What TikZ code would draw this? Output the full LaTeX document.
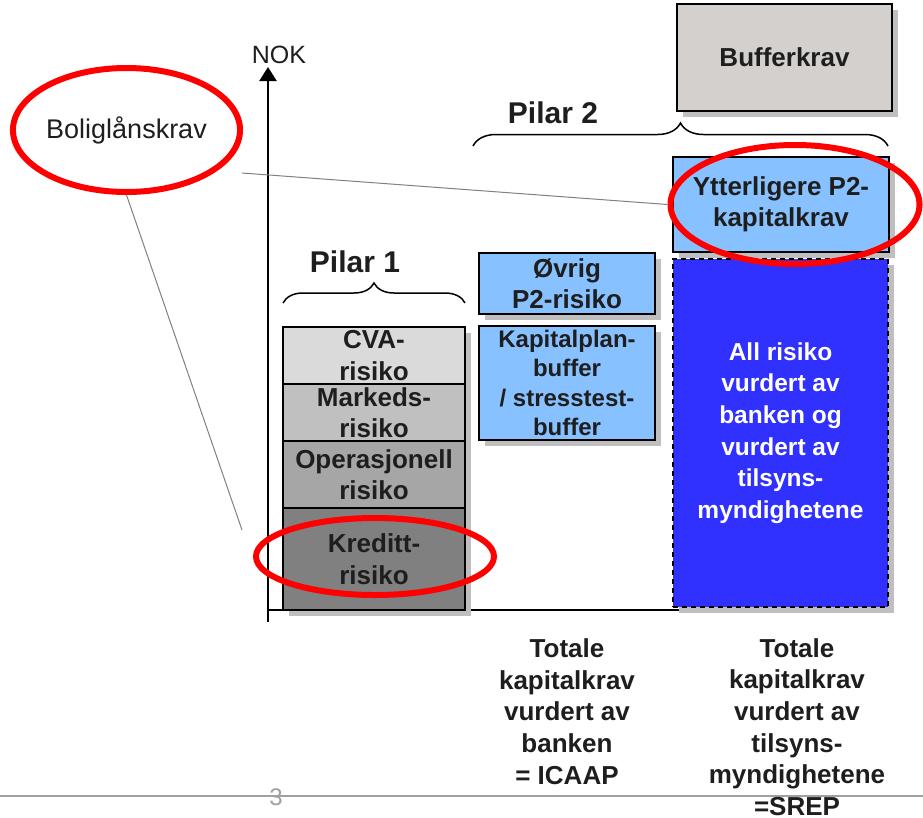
\documentclass[tikz,border=0pt]{standalone}
\usepackage{fontspec}
\setmainfont{Liberation Sans}
\usetikzlibrary{shapes.geometric,shadows,arrows.meta,decorations.pathreplacing}
\definecolor{cvaC}{HTML}{DADADA}
\definecolor{markC}{HTML}{C0C0C0}
\definecolor{operC}{HTML}{A6A6A6}
\definecolor{kredC}{HTML}{808080}
\definecolor{lblue}{HTML}{88C1FF}
\definecolor{bufC}{HTML}{D3D0CE}
\definecolor{dblue}{HTML}{3030FF}
\definecolor{shadowC}{HTML}{BFBFBF}
\definecolor{txtC}{HTML}{1E1E1E}
\definecolor{connC}{HTML}{808080}
\definecolor{footC}{HTML}{A0A0A0}
\tikzset{
  box/.style={draw=black, line width=1.2pt, inner sep=0pt, align=center, text=txtC,
    font=\fontsize{26}{31.5}\selectfont\bfseries,
    drop shadow={shadow xshift=6pt, shadow yshift=-6pt, fill=shadowC, opacity=1}},
  redring/.style={ellipse, draw=red, line width=6pt, inner sep=0pt},
  conn/.style={draw=connC, line width=1pt},
  bracelbl/.style={font=\fontsize{30}{36}\selectfont\bfseries, text=txtC, inner sep=0pt},
  bracestyle/.style={decorate, decoration={brace, amplitude=#1}, line width=1.5pt},
  bottomlbl/.style={font=\fontsize{26}{31.7}\selectfont\bfseries, text=txtC, align=center, inner sep=0pt}
}
\begin{document}
\begin{tikzpicture}[x=1pt,y=-1pt]
\path[use as bounding box] (0,0) rectangle (923,817);

% footer line and page number
\coordinate (fl) at (0,796);
\coordinate (fr) at (923,796);
\draw[footC, line width=1.5pt] (fl) -- (fr);
\node[text=footC, font=\fontsize{24}{28}\selectfont, inner sep=0pt] (pg) at (276,797) {3};

% axes
\coordinate (axb) at (268,622);
\coordinate (axt) at (268,67);
\coordinate (axr) at (887,610);
\coordinate (axo) at (268,610);
\draw[line width=2pt] (axo) -- (axr);
\draw[line width=2.5pt, -{Triangle[width=17pt,length=14pt]}] (axb) -- (axt);
\node[font=\fontsize{25}{30}\selectfont, text=txtC, inner sep=0pt] (nok) at (279,55) {NOK};

% Pilar 1 stack
\node[box, fill=cvaC, minimum width=182pt, minimum height=57pt] (cva) at (374,355.5) {CVA-\\risiko};
\node[box, fill=markC, minimum width=182pt, minimum height=57pt] (mark) at (374,412.5) {Markeds-\\risiko};
\node[box, fill=operC, minimum width=182pt, minimum height=67pt] (oper) at (374,474.5) {Operasjonell\\risiko};
\node[box, fill=kredC, minimum width=182pt, minimum height=102pt] (kred) at (374,559) {Kreditt-\\risiko};

% Pilar 2 (ICAAP)
\node[box, fill=lblue, minimum width=176pt, minimum height=61pt] (ovrig) at (567,283.5) {Øvrig\\P2-risiko};
\node[box, fill=lblue, minimum width=176pt, minimum height=114pt,
      font=\fontsize{24}{29.5}\selectfont\bfseries] (kap) at (567,383) {Kapitalplan-\\buffer\\/ stresstest-\\buffer};

% SREP column
\node[box, fill=bufC, minimum width=215pt, minimum height=107pt] (buf) at (784.5,57.5) {Bufferkrav};
\node[box, fill=lblue, minimum width=216pt, minimum height=95pt] (ytter) at (781,204.5) {Ytterligere P2-\\kapitalkrav};
\node[box, fill=dblue, dashed, dash pattern=on 5pt off 4pt, line width=1.5pt, text=white,
      minimum width=215pt, minimum height=348pt,
      font=\fontsize{24.5}{31.7}\selectfont\bfseries] (all) at (780.5,433)
      {All risiko\\vurdert av\\banken og\\vurdert av\\tilsyns-\\myndighetene};

% braces
\coordinate (b1l) at (283,303);
\coordinate (b1r) at (465,303);
\draw[bracestyle=20pt] (b1l) -- (b1r);
\node[bracelbl] (p1) at (355,262) {Pilar 1};
\coordinate (b2l) at (473,146);
\coordinate (b2r) at (888,146);
\draw[bracestyle=23pt] (b2l) -- (b2r);
\node[bracelbl] (p2) at (553,113) {Pilar 2};

% red rings
\node[redring, minimum width=221pt, minimum height=124pt,
      font=\fontsize{27}{32}\selectfont, text=txtC] (bolig) at (126.5,130) {Boliglånskrav};
\node[redring, minimum width=238pt, minimum height=77pt] (kredE) at (375,556.5) {};
\node[redring, minimum width=249pt, minimum height=119pt] (ytterE) at (795,204.5) {};

% connectors
\coordinate (c1) at (242,173);
\coordinate (c2) at (242,530);
\draw[conn] (c1) -- (ytterE.west);
\draw[conn] (bolig.south) -- (c2);

% bottom labels
\node[bottomlbl] (icaap) at (567,711.5) {Totale\\kapitalkrav\\vurdert av\\banken\\= ICAAP};
\node[bottomlbl] (srep) at (797,727) {Totale\\kapitalkrav\\vurdert av\\tilsyns-\\myndighetene\\=SREP};
\end{tikzpicture}
\end{document}
